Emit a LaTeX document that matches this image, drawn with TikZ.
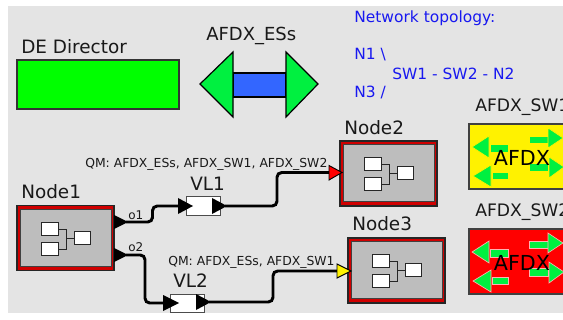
\documentclass[tikz,border=0pt]{standalone}
\usepackage{fontspec}
\setmainfont{DejaVu Sans}
\definecolor{bgg}{HTML}{E4E4E4}
\definecolor{arrowgreen}{HTML}{00F040}
\definecolor{dirgreen}{HTML}{00FF00}
\definecolor{esblue}{HTML}{3366FF}
\definecolor{boxgray}{HTML}{BDBDBD}
\definecolor{framered}{HTML}{D00000}
\definecolor{linkblue}{HTML}{1818F0}
\tikzset{
  lbl/.style={inner sep=0pt,anchor=west,font=\fontsize{13.8pt}{14pt}\selectfont,text=black!90},
  swl/.style={lbl,font=\fontsize{12.9pt}{14pt}\selectfont},
  qm/.style={inner sep=0pt,anchor=west,font=\fontsize{9.3pt}{10pt}\selectfont,text=black!90},
  prt/.style={inner sep=0pt,anchor=west,font=\fontsize{9pt}{10pt}\selectfont,text=black!90},
  topo/.style={inner sep=0pt,anchor=west,font=\fontsize{11.6pt}{12pt}\selectfont,text=linkblue},
  frame/.style={draw=black!85,line width=0.8pt,fill=framered,inner sep=0pt,minimum width=97*0.75pt,minimum height=65*0.75pt},
  vlbox/.style={draw=black!70,line width=0.75pt,fill=white,inner sep=0pt,minimum width=34*0.75pt,minimum height=18*0.75pt},
  wire/.style={line width=2.2pt,black,rounded corners=3.5pt},
  tri/.style={draw=black,line width=0.7pt,line join=miter},
  ico/.style={draw=black!85,line width=0.6pt,fill=white},
  icl/.style={draw=black!85,line width=0.6pt},
  swf/.style={draw=black!75,line width=0.9pt,inner sep=0pt,minimum width=97*0.75pt,minimum height=65*0.75pt},
  sarrow/.style={fill=arrowgreen,draw=#1,line width=0.5pt},
}
\newcommand{\nodeicon}[2]{% x, y (top-left of frame)
  \begin{scope}[shift={(#1,#2)}]
    \fill[boxgray,draw=black!75,line width=0.6pt] (3.5,3.5) rectangle (94,60.5);
    \draw[icl] (41,23) -- (49,23) -- (49,43) -- (41,43) (49,32) -- (57,32);
    \draw[ico] (24.5,16) rectangle (41,29);
    \draw[ico] (24.5,36) rectangle (41,49);
    \draw[ico] (57,25) rectangle (73.5,38);
  \end{scope}}
\newcommand{\swicon}[3]{% x, y, glow colour
  \begin{scope}[shift={(#1,#2)}]
    \draw[sarrow=#3] (21,20) rectangle (39,28);
    \draw[sarrow=#3] (20,12) -- (3,23) -- (20,34) -- cycle;
    \draw[sarrow=#3] (23,48) rectangle (39,55);
    \draw[sarrow=#3] (22,41) -- (4,52) -- (22,63) -- cycle;
    \draw[sarrow=#3] (60,12) rectangle (79,19);
    \draw[sarrow=#3] (79,4) -- (94,14) -- (79,24) -- cycle;
    \draw[sarrow=#3] (60,39) rectangle (79,47);
    \draw[sarrow=#3] (80,33) -- (95,43) -- (80,54) -- cycle;
    \node[inner sep=0pt,font=\fontsize{15.5pt}{16pt}\selectfont,text=black] at (53,34) {AFDX};
  \end{scope}}
\begin{document}
\begin{tikzpicture}[x=0.75pt,y=-0.75pt]
\useasboundingbox (0,0) rectangle (563,320);
\fill[bgg] (8,6) rectangle (563,313);

% director
\node[lbl] (dirlabel) at (21,47) {DE Director};
\node[draw=black!80,line width=0.8pt,fill=dirgreen,inner sep=0pt,minimum width=162*0.75pt,minimum height=49*0.75pt] (director) at (98,84.5) {};

% end systems icon
\node[lbl,font=\fontsize{13.5pt}{14pt}\selectfont] (eslabel) at (206,36) {AFDX\_ESs};
\draw[black,line width=0.9pt,fill=esblue] (233,73) rectangle (286,97);
\draw[black,line width=0.9pt,fill=arrowgreen,line join=miter] (233,52) -- (200,84) -- (233,117) -- cycle;
\draw[black,line width=0.9pt,fill=arrowgreen,line join=miter] (286,52) -- (318,84) -- (286,117) -- cycle;

% topology text
\node[topo] (t1) at (354,18) {Network topology:};
\node[topo] (t2) at (354,55) {N1 \textbackslash};
\node[topo] (t3) at (392,74) {SW1 - SW2 - N2};
\node[topo] (t4) at (354,92) {N3 /};

% switches
\node[swl] (sw1label) at (475,107) {AFDX\_SW1};
\node[swf,fill=yellow] (sw1) at (517.5,156.5) {};
\swicon{469}{124}{yellow}
\node[swl] (sw2label) at (475,212) {AFDX\_SW2};
\node[swf,fill=red] (sw2) at (517.5,261.5) {};
\swicon{469}{229}{white!70!red}

% composite nodes
\node[lbl] (n1label) at (21,192) {Node1};
\node[frame] (node1) at (65.5,238) {};
\nodeicon{17}{206}
\node[lbl] (n2label) at (344,128) {Node2};
\node[frame] (node2) at (388.5,173.5) {};
\nodeicon{340}{141}
\node[lbl] (n3label) at (352,224) {Node3};
\node[frame] (node3) at (396.5,270.5) {};
\nodeicon{348}{238}

% relays
\node[vlbox] (vl1) at (203,206) {};
\node[vlbox] (vl2) at (187,303) {};
\node[lbl] (vl1label) at (190,184) {VL1};
\node[lbl] (vl2label) at (173,281) {VL2};

% connection points
\coordinate (o1) at (126,222);
\coordinate (o2) at (126,255);
\coordinate (vl1in) at (180,206);
\coordinate (vl2in) at (165,303);
\coordinate (vl1out) at (225,206);
\coordinate (vl2out) at (209,302);
\coordinate (n2in) at (331,172.5);
\coordinate (n3in) at (339,271);

% wires
\draw[wire] (o1) -| (152.5,214) |- (vl1in);
\draw[wire] (o2) -| (145,280) |- (vl2in);
\draw[wire] (vl1out) -| (277,190) |- (n2in);
\draw[wire] (vl2out) -| (273,287) |- (n3in);

% ports
\fill[black] (114,215) -- (128,222) -- (114,229) -- cycle;
\fill[black] (114,248) -- (128,255) -- (114,262) -- cycle;
\fill[black] (178,198) -- (193,206) -- (178,214) -- cycle;
\fill[black] (212,198) -- (227,206) -- (212,214) -- cycle;
\fill[black] (163,295) -- (179,303) -- (163,311) -- cycle;
\fill[black] (196,294) -- (211,302) -- (196,310) -- cycle;
\draw[tri,fill=red] (329,165.5) -- (342,172.5) -- (329,180) -- cycle;
\draw[tri,fill=yellow] (337,264) -- (351,271) -- (337,278) -- cycle;

% labels
\node[prt] (o1label) at (128,215.5) {o1};
\node[prt] (o2label) at (128,247.5) {o2};
\node[qm] (qm1) at (85,164) {QM: AFDX\_ESs, AFDX\_SW1, AFDX\_SW2};
\node[qm] (qm2) at (168,262) {QM: AFDX\_ESs, AFDX\_SW1};
\end{tikzpicture}
\end{document}
